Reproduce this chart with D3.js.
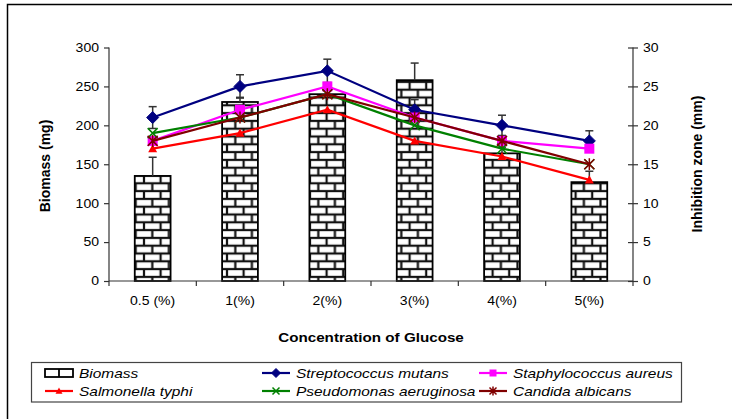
<!DOCTYPE html>
<html>
<head>
<meta charset="utf-8">
<script src="https://cdn.jsdelivr.net/npm/d3@7"></script>
<style>
  html, body { margin: 0; padding: 0; background: #fff; }
  svg { display: block; font-family: "Liberation Sans", Arial, sans-serif; }
</style>
</head>
<body>
<svg id="chart" width="732" height="419"></svg>
<script>
// Glucose concentrations on the x axis
const categories = ["0.5 (%)", "1(%)", "2(%)", "3(%)", "4(%)", "5(%)"];

// Biomass (mg), left axis, with upper error
const biomass    = [135, 230, 240, 258, 164, 127];
const biomassErr = [24, 6, 6, 22, 8, 14];

// Inhibition zone (mm), right axis
const strepMutans   = [21, 25, 27, 22, 20, 18];
const strepErr      = [1.4, 1.5, 1.5, 1.3, 1.3, 1.3];
const staphAureus   = [18, 22, 25, 21, 18, 17];
const salmonella    = [17, 19, 22, 18, 16, 13];
const pseudomonas   = [19, 21, 24, 20, 17, 15];
const candida       = [18, 21, 24, 21, 18, 15];

const leftTicks  = [0, 50, 100, 150, 200, 250, 300];
const rightTicks = [0, 5, 10, 15, 20, 25, 30];

const series = [
  { name: "Streptococcus mutans",   values: strepMutans, color: "#000080", marker: "diamond" },
  { name: "Staphylococcus aureus",  values: staphAureus, color: "#FF00FF", marker: "square" },
  { name: "Salmonella typhi",       values: salmonella,  color: "#FF0000", marker: "triangle" },
  { name: "Pseudomonas aeruginosa", values: pseudomonas, color: "#008000", marker: "cross" },
  { name: "Candida albicans",       values: candida,     color: "#800000", marker: "star" }
];

const svg = d3.select("#chart");

// horizontal widening of axis text and legend text
const SX = 1.17;
const SX_LEGEND = 1.19;

// plot area
const plotLeft = 109, plotRight = 633, plotTop = 47.5, plotBottom = 281;

const x = d3.scaleBand().domain(categories).range([plotLeft, plotRight]).paddingInner(0).paddingOuter(0);
const yL = d3.scaleLinear().domain([0, 300]).range([plotBottom, plotTop]);
const yR = d3.scaleLinear().domain([0, 30]).range([plotBottom, plotTop]);

// outer frame
svg.append("rect")
  .attr("x", 7.5).attr("y", 4.5).attr("width", 760).attr("height", 440)
  .attr("fill", "none").attr("stroke", "#000").attr("stroke-width", 1.5);

// brick fill
const defs = svg.append("defs");
const bw = 16.6, bh = 7.8;
const pat = defs.append("pattern")
  .attr("id", "brick")
  .attr("patternUnits", "userSpaceOnUse")
  .attr("x", 144).attr("y", 3.9)
  .attr("width", bw).attr("height", bh * 2);
pat.append("rect").attr("width", bw).attr("height", bh * 2).attr("fill", "#fff");
const brickLines = [
  [0, 0, bw, 0], [0, bh, bw, bh], [0, bh * 2, bw, bh * 2],
  [0, 0, 0, bh], [bw, 0, bw, bh], [bw / 2, bh, bw / 2, bh * 2]
];
pat.selectAll("line").data(brickLines).join("line")
  .attr("x1", d => d[0]).attr("y1", d => d[1])
  .attr("x2", d => d[2]).attr("y2", d => d[3])
  .attr("stroke", "#111").attr("stroke-width", 2.2);

// bars
const barW = x.bandwidth() * 0.41;
svg.append("g").selectAll("rect").data(categories).join("rect")
  .attr("x", d => x(d) + (x.bandwidth() - barW) / 2)
  .attr("y", (d, i) => yL(biomass[i]))
  .attr("width", barW)
  .attr("height", (d, i) => plotBottom - yL(biomass[i]))
  .attr("fill", "url(#brick)")
  .attr("stroke", "#000").attr("stroke-width", 1.8);

const cx = d => x(d) + x.bandwidth() / 2;

// biomass error bars (upper)
const errColor = "#333";
const eb = svg.append("g").attr("stroke", errColor).attr("stroke-width", 1.5);
categories.forEach((c, i) => {
  const y0 = yL(biomass[i]), y1 = yL(biomass[i] + biomassErr[i]);
  eb.append("line").attr("x1", cx(c)).attr("x2", cx(c)).attr("y1", y0).attr("y2", y1);
  eb.append("line").attr("x1", cx(c) - 4).attr("x2", cx(c) + 4).attr("y1", y1).attr("y2", y1);
});

// axes
const axisColor = "#333";
const gL = svg.append("g").attr("transform", `translate(${plotLeft},0)`)
  .call(d3.axisLeft(yL).tickValues(leftTicks).tickSize(5).tickPadding(5));
const gR = svg.append("g").attr("transform", `translate(${plotRight},0)`)
  .call(d3.axisRight(yR).tickValues(rightTicks).tickSize(5).tickPadding(5));
gR.selectAll(".tick line").attr("x1", -5);
const gB = svg.append("g").attr("transform", `translate(0,${plotBottom})`)
  .call(d3.axisBottom(x).tickSize(0).tickPadding(15));
// category boundary ticks
svg.append("g").selectAll("line").data(d3.range(categories.length + 1)).join("line")
  .attr("x1", i => plotLeft + i * x.step()).attr("x2", i => plotLeft + i * x.step())
  .attr("y1", plotBottom).attr("y2", plotBottom + 5)
  .attr("stroke", axisColor).attr("stroke-width", 1.2);

[gL, gR, gB].forEach(g => {
  g.select(".domain").attr("stroke", axisColor).attr("stroke-width", 1.2);
  g.selectAll(".tick line").attr("stroke", axisColor).attr("stroke-width", 1.2);
  g.selectAll(".tick text").attr("fill", "#000").style("font-size", "12px")
    .style("font-family", '"Liberation Sans", Arial, sans-serif')
    .attr("transform", `scale(${SX},1)`);
});
gL.selectAll(".tick text").attr("x", -10 / SX);
gR.selectAll(".tick text").attr("x", 10 / SX);
gL.select(".domain").attr("d", `M0,${plotBottom}V${plotTop}`);
gR.select(".domain").attr("d", `M0,${plotBottom}V${plotTop}`);
gB.select(".domain").attr("d", `M${plotLeft},0H${plotRight}`);

// Streptococcus error bars (symmetric)
const eb2 = svg.append("g").attr("stroke", errColor).attr("stroke-width", 1.5);
categories.forEach((c, i) => {
  const yt = yR(strepMutans[i] + strepErr[i]), yb = yR(strepMutans[i] - strepErr[i]);
  eb2.append("line").attr("x1", cx(c)).attr("x2", cx(c)).attr("y1", yb).attr("y2", yt);
  eb2.append("line").attr("x1", cx(c) - 4).attr("x2", cx(c) + 4).attr("y1", yt).attr("y2", yt);
  eb2.append("line").attr("x1", cx(c) - 4).attr("x2", cx(c) + 4).attr("y1", yb).attr("y2", yb);
});

// marker drawing
function drawMarker(g, type, color, s) {
  const h = s / 2;
  switch (type) {
    case "diamond":
      g.append("path").attr("d", `M0,${-h - 1}L${h + 1},0L0,${h + 1}L${-h - 1},0Z`).attr("fill", color).attr("stroke", color);
      break;
    case "square":
      g.append("rect").attr("x", -h).attr("y", -h).attr("width", s).attr("height", s).attr("fill", color);
      break;
    case "triangle":
      g.append("path").attr("d", `M0,${-h}L${h},${h * 0.8}L${-h},${h * 0.8}Z`).attr("fill", color);
      break;
    case "cross":
      g.append("path").attr("d", `M${-h},${-h}L${h},${h}M${-h},${h}L${h},${-h}`).attr("stroke", color).attr("stroke-width", 1.5).attr("fill", "none");
      break;
    case "star":
      g.append("path").attr("d", `M${-h},${-h}L${h},${h}M${-h},${h}L${h},${-h}M0,${-h - 1}L0,${h + 1}`).attr("stroke", color).attr("stroke-width", 1.5).attr("fill", "none");
      break;
  }
}

const line = d3.line().x((d, i) => cx(categories[i])).y(d => yR(d));
series.forEach(s => {
  svg.append("path").datum(s.values).attr("d", line)
    .attr("fill", "none").attr("stroke", s.color).attr("stroke-width", 2.2);
  s.values.forEach((v, i) => {
    const g = svg.append("g").attr("transform", `translate(${cx(categories[i])},${yR(v)})`);
    drawMarker(g, s.marker, s.color, s.marker === "triangle" ? 9 : 10);
  });
});

// axis titles
svg.append("text").attr("transform", "translate(50,166) rotate(-90)")
  .attr("text-anchor", "middle").style("font-size", "14px").style("font-weight", "bold")
  .text("Biomass (mg)");
svg.append("text").attr("transform", "translate(702,164) rotate(-90)")
  .attr("text-anchor", "middle").style("font-size", "14px").style("font-weight", "bold")
  .text("Inhibition zone (mm)");
svg.append("text").attr("transform", `translate(${(plotLeft + plotRight) / 2},342) scale(${SX},1)`)
  .attr("text-anchor", "middle").style("font-size", "13px").style("font-weight", "bold")
  .text("Concentration of Glucose");

// legend: row 0 -> Biomass, Streptococcus, Staphylococcus; row 1 -> Salmonella, Pseudomonas, Candida
const lg = svg.append("g");
lg.append("rect").attr("x", 31.5).attr("y", 362.5).attr("width", 650).attr("height", 39.5)
  .attr("fill", "#fff").attr("stroke", "#444").attr("stroke-width", 1.2);
const legendItems = [{ name: "Biomass", bar: true }].concat(series);
const colX = [45, 262, 479];
const rowY = [373, 391];
legendItems.forEach((d, i) => {
  const sx = colX[i % 3], sy = rowY[Math.floor(i / 3)];
  if (d.bar) {
    lg.append("rect").attr("x", sx).attr("y", sy - 4).attr("width", 28).attr("height", 8)
      .attr("fill", "#fff").attr("stroke", "#000").attr("stroke-width", 1.8);
    lg.append("line").attr("x1", sx + 14).attr("x2", sx + 14).attr("y1", sy - 4).attr("y2", sy + 4)
      .attr("stroke", "#000").attr("stroke-width", 1.8);
  } else {
    lg.append("line").attr("x1", sx).attr("x2", sx + 28).attr("y1", sy).attr("y2", sy)
      .attr("stroke", d.color).attr("stroke-width", 2.2);
    const g = lg.append("g").attr("transform", `translate(${sx + 14},${sy})`);
    drawMarker(g, d.marker, d.color, 7);
  }
  lg.append("text").attr("transform", `translate(${sx + 34},${sy + 4.5}) scale(${SX_LEGEND},1)`)
    .style("font-size", "13px").style("font-style", "italic").text(d.name);
});
</script>
</body>
</html>
